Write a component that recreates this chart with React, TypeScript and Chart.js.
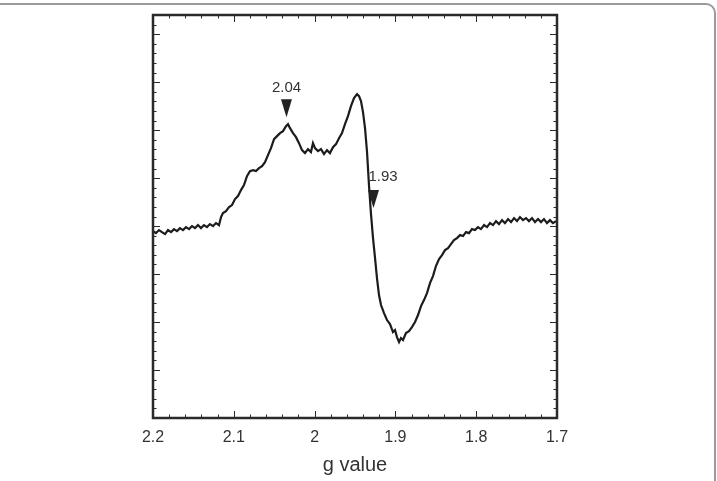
import React, { useEffect, useRef } from "react";
import { Chart, registerables } from "chart.js";

Chart.register(...registerables);

// g values (x) of the recorded EPR trace
const G_VALUES = [
  2.2, 2.1963, 2.1926, 2.1889, 2.1851, 2.1814, 2.1777, 2.174, 2.1703, 2.1666,
  2.1629, 2.1592, 2.1554, 2.1517, 2.148, 2.1443, 2.1406, 2.1369, 2.1332, 2.1295,
  2.1257, 2.122, 2.1183, 2.1158, 2.1134, 2.1097, 2.1059, 2.1022, 2.0985, 2.0948,
  2.0911, 2.0874, 2.0837, 2.08, 2.0762, 2.0725, 2.0688, 2.0651, 2.0614, 2.0577,
  2.054, 2.0502, 2.0465, 2.0428, 2.0391, 2.0354, 2.0329, 2.0304, 2.0267, 2.023,
  2.0193, 2.0156, 2.0119, 2.0082, 2.0045, 2.002, 1.9995, 1.9958, 1.9921, 1.9884,
  1.9847, 1.981, 1.9772, 1.9735, 1.9698, 1.9661, 1.9624, 1.9587, 1.955, 1.9512,
  1.9475, 1.945, 1.9426, 1.9401, 1.9376, 1.9351, 1.9327, 1.9302, 1.9277, 1.9252,
  1.9228, 1.9203, 1.9178, 1.9141, 1.9104, 1.9067, 1.903, 1.9005, 1.898, 1.8955,
  1.8931, 1.8906, 1.8869, 1.8832, 1.8795, 1.8757, 1.872, 1.8683, 1.8646, 1.8609,
  1.8572, 1.8535, 1.8498, 1.846, 1.8423, 1.8386, 1.8349, 1.8312, 1.8275, 1.8238,
  1.82, 1.8163, 1.8126, 1.8089, 1.8052, 1.8015, 1.7978, 1.7941, 1.7903, 1.7866,
  1.7829, 1.7792, 1.7755, 1.7718, 1.7681, 1.7644, 1.7606, 1.7569, 1.7532, 1.7495,
  1.7458, 1.7421, 1.7384, 1.7347, 1.7309, 1.7272, 1.7235, 1.7198, 1.7161, 1.7124,
  1.7087, 1.705, 1.7012,
];

// first-derivative EPR intensity (arbitrary units)
const INTENSITY = [
  -0.104, -0.146, -0.083, -0.125, -0.167, -0.083, -0.125, -0.063, -0.104, -0.042,
  -0.083, -0.021, -0.063, 0.0, -0.042, 0.021, -0.042, 0.021, -0.021, 0.042,
  0.0, 0.063, 0.021, 0.188, 0.271, 0.313, 0.396, 0.438, 0.563, 0.625,
  0.75, 0.854, 1.042, 1.146, 1.167, 1.146, 1.208, 1.25, 1.333, 1.479,
  1.625, 1.813, 1.875, 1.938, 1.979, 2.083, 2.125, 2.042, 1.938, 1.854,
  1.729, 1.583, 1.521, 1.604, 1.542, 1.729, 1.625, 1.563, 1.604, 1.5,
  1.583, 1.521, 1.646, 1.708, 1.833, 1.938, 2.125, 2.292, 2.5, 2.667,
  2.75, 2.708, 2.604, 2.375, 2.042, 1.542, 0.854, 0.25, -0.25, -0.667,
  -1.083, -1.438, -1.646, -1.813, -1.958, -2.042, -2.208, -2.167, -2.313, -2.417,
  -2.333, -2.375, -2.229, -2.188, -2.104, -2.0, -1.854, -1.667, -1.542, -1.396,
  -1.188, -1.042, -0.833, -0.688, -0.604, -0.5, -0.458, -0.375, -0.292, -0.25,
  -0.188, -0.208, -0.125, -0.146, -0.063, -0.083, -0.021, -0.063, 0.021, -0.021,
  0.063, 0.021, 0.104, 0.042, 0.125, 0.063, 0.146, 0.083, 0.167, 0.104,
  0.188, 0.125, 0.167, 0.104, 0.167, 0.083, 0.146, 0.083, 0.146, 0.063,
  0.125, 0.063, 0.104,
];

const X_MIN = 1.7;
const X_MAX = 2.2;
const X_TICKS = [2.2, 2.1, 2.0, 1.9, 1.8, 1.7];
const X_TICK_LABELS = ["2.2", "2.1", "2", "1.9", "1.8", "1.7"];
const X_MINOR_STEP = 0.02;

const Y_MIN = -4;
const Y_MAX = 4.4;
const Y_MAJOR_STEP = 1;
const Y_MINOR_STEP = 0.2;

const AXIS_TITLE = "g value";

// annotations: triangle tip at (g, tipY); label at (labelG, labelY)
const MARKER_LABELS = ["2.04", "1.93"];
const MARKER_G = [2.0348, 1.9271];
const MARKER_TIP_Y = [2.27, 0.375];
const MARKER_LABEL_G = [2.0348, 1.9153];
const MARKER_LABEL_Y = [2.875, 1.02];

const FONT = "'Liberation Sans', Arial, Helvetica, sans-serif";

const decorPlugin = {
  id: "decor",
  afterDraw(chart: any) {
    const { ctx, chartArea: a, scales } = chart;
    const x = scales.x;
    const y = scales.y;
    ctx.save();
    ctx.strokeStyle = "#2a2a2a";
    ctx.lineWidth = 1;
    // x ticks (top & bottom, inward)
    const nx = Math.round((X_MAX - X_MIN) / X_MINOR_STEP);
    for (let i = 0; i <= nx; i++) {
      const v = X_MIN + i * X_MINOR_STEP;
      const major = Math.abs(v * 10 - Math.round(v * 10)) < 1e-6;
      const len = major ? 7 : 3.5;
      const px = Math.round(x.getPixelForValue(v)) + 0.5;
      ctx.beginPath();
      ctx.moveTo(px, a.bottom);
      ctx.lineTo(px, a.bottom - len);
      ctx.moveTo(px, a.top);
      ctx.lineTo(px, a.top + len);
      ctx.stroke();
    }
    // y ticks (left & right, inward)
    const ny = Math.round((Y_MAX - Y_MIN) / Y_MINOR_STEP);
    for (let i = 0; i <= ny; i++) {
      const v = Y_MIN + i * Y_MINOR_STEP;
      const major = Math.abs(v / Y_MAJOR_STEP - Math.round(v / Y_MAJOR_STEP)) < 1e-6;
      const len = major ? 7 : 3.5;
      const py = Math.round(y.getPixelForValue(v)) + 0.5;
      ctx.beginPath();
      ctx.moveTo(a.left, py);
      ctx.lineTo(a.left + len, py);
      ctx.moveTo(a.right, py);
      ctx.lineTo(a.right - len, py);
      ctx.stroke();
    }
    // frame
    ctx.lineWidth = 2.5;
    ctx.strokeStyle = "#2a2a2a";
    ctx.strokeRect(a.left, a.top, a.right - a.left, a.bottom - a.top);

    // markers
    ctx.fillStyle = "#222";
    ctx.font = `15px ${FONT}`;
    ctx.textAlign = "center";
    ctx.textBaseline = "middle";
    for (let i = 0; i < MARKER_LABELS.length; i++) {
      const tx = x.getPixelForValue(MARKER_G[i]);
      const ty = y.getPixelForValue(MARKER_TIP_Y[i]);
      ctx.beginPath();
      ctx.moveTo(tx, ty);
      ctx.lineTo(tx - 5.5, ty - 18);
      ctx.lineTo(tx + 5.5, ty - 18);
      ctx.closePath();
      ctx.fill();
      ctx.fillStyle = "#333";
      ctx.fillText(
        MARKER_LABELS[i],
        x.getPixelForValue(MARKER_LABEL_G[i]),
        y.getPixelForValue(MARKER_LABEL_Y[i])
      );
      ctx.fillStyle = "#222";
    }
    ctx.restore();
  },
};

export default function App() {
  const ref = useRef<HTMLCanvasElement | null>(null);

  useEffect(() => {
    if (!ref.current) return;
    const chart = new Chart(ref.current, {
      type: "line",
      data: {
        datasets: [
          {
            data: G_VALUES.map((g, i) => ({ x: g, y: INTENSITY[i] })),
            borderColor: "#1c1c1c",
            borderWidth: 2.2,
            pointRadius: 0,
            tension: 0,
            fill: false,
          },
        ],
      },
      options: {
        responsive: false,
        animation: false,
        layout: { padding: { left: 153, right: 160, top: 15, bottom: 0 } },
        plugins: {
          legend: { display: false },
          tooltip: { enabled: false },
        },
        scales: {
          x: {
            type: "linear",
            reverse: true,
            min: X_MIN,
            max: X_MAX,
            grid: { display: false, drawTicks: false },
            border: { display: false },
            afterBuildTicks: (s: any) => {
              s.ticks = X_TICKS.map((v) => ({ value: v }));
            },
            afterFit: (s: any) => {
              s.height = 63;
            },
            ticks: {
              autoSkip: false,
              maxRotation: 0,
              padding: 10,
              color: "#333",
              font: { family: FONT, size: 16 },
              callback: (v: any) => {
                const idx = X_TICKS.findIndex((t) => Math.abs(t - Number(v)) < 1e-6);
                return idx >= 0 ? X_TICK_LABELS[idx] : "";
              },
            },
            title: {
              display: true,
              text: AXIS_TITLE,
              color: "#333",
              font: { family: FONT, size: 20 },
              padding: { top: 4, bottom: 4 },
            },
          },
          y: {
            display: false,
            min: Y_MIN,
            max: Y_MAX,
          },
        },
      },
      plugins: [decorPlugin],
    } as any);
    return () => chart.destroy();
  }, []);

  return (
    <div
      style={{
        position: "fixed",
        left: 0,
        top: 0,
        width: 717,
        height: 481,
        overflow: "hidden",
        background: "#fff",
      }}
    >
      <div
        style={{
          position: "absolute",
          left: -20,
          top: 3,
          width: 736,
          height: 600,
          boxSizing: "border-box",
          border: "2px solid #9a9a9a",
          borderRadius: 10,
        }}
      />
      <canvas
        ref={ref}
        width={717}
        height={481}
        style={{ position: "absolute", left: 0, top: 0, display: "block" }}
      />
    </div>
  );
}
